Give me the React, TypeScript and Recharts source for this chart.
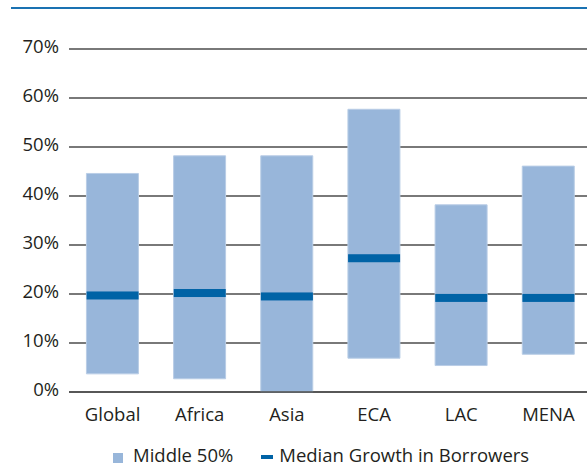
import React from 'react';
import {
  ComposedChart,
  Bar,
  Scatter,
  XAxis,
  YAxis,
  CartesianGrid,
  Legend,
} from 'recharts';

// Growth in borrowers by region: interquartile range and median (%)
const regions = ['Global', 'Africa', 'Asia', 'ECA', 'LAC', 'MENA'];
const lowerQuartile = [3.7, 2.7, 0, 6.9, 5.4, 7.7];
const upperQuartile = [44.6, 48.2, 48.2, 57.7, 38.2, 46.1];
const medianGrowth = [19.7, 20.2, 19.5, 27.3, 19.2, 19.2];
const yTicks = [0, 10, 20, 30, 40, 50, 60, 70];

const data = regions.map((region, i) => ({
  region,
  range: [lowerQuartile[i], upperQuartile[i]],
  median: medianGrowth[i],
}));

const FONT = '"Open Sans", "Noto Sans", sans-serif';
const FONT_SIZE = 18.5;
const TEXT = '#231f20';
const LIGHT = '#98b6da';
const DARK = '#0063a6';
const BAR_W = 52;

const MedianMark = (props: any) => {
  const { cx, cy } = props;
  if (cx == null || cy == null) return null;
  return <rect x={cx - BAR_W / 2} y={cy - 4} width={BAR_W} height={8} fill={DARK} />;
};

const LegendContent = () => (
  <div
    style={{
      display: 'flex',
      alignItems: 'center',
      fontFamily: FONT,
      fontSize: FONT_SIZE,
      lineHeight: '23px',
      height: 23,
      color: TEXT,
      paddingLeft: 113,
      whiteSpace: 'nowrap',
    }}
  >
    <span style={{ width: 10, height: 10, background: LIGHT, display: 'inline-block', marginRight: 10, marginTop: 6 }} />
    <span>Middle 50%</span>
    <span style={{ width: 12, height: 4, background: DARK, display: 'inline-block', marginLeft: 28, marginRight: 6, marginTop: 4 }} />
    <span>Median Growth in Borrowers</span>
  </div>
);

export default function App() {
  return (
    <div
      style={{
        position: 'fixed',
        left: 0,
        top: 0,
        width: 587,
        height: 466,
        overflow: 'hidden',
        background: '#fff',
      }}
    >
      <div
        style={{
          position: 'absolute',
          left: 11,
          right: 0,
          top: 7,
          height: 2,
          background: '#1a72b2',
        }}
      />
      <ComposedChart
        width={592}
        height={466}
        data={data}
        margin={{ top: 49, right: 0, left: 0, bottom: 0 }}
        barCategoryGap="20%"
      >
        <CartesianGrid vertical={false} stroke="#4d4d4d" strokeWidth={1.3} />
        <XAxis
          dataKey="region"
          height={74}
          axisLine={{ stroke: '#4d4d4d', strokeWidth: 1.5 }}
          tickLine={false}
          tickSize={0}
          tickMargin={16}
          tick={{ fill: TEXT, fontSize: FONT_SIZE, fontFamily: FONT }}
          interval={0}
        />
        <YAxis
          width={69}
          domain={[0, 70]}
          ticks={yTicks}
          axisLine={false}
          tickLine={false}
          tickSize={0}
          tickMargin={10}
          tickFormatter={(v: number) => `${v}%`}
          tick={{ fill: TEXT, fontSize: FONT_SIZE, fontFamily: FONT, dy: -3 }}
        />
        <Legend
          verticalAlign="middle"
          layout="horizontal"
          content={<LegendContent />}
          wrapperStyle={{ top: 443, left: 0, width: 587 }}
        />
        <Bar
          dataKey="range"
          name="Middle 50%"
          fill={LIGHT}
          stroke="#b9cde6"
          strokeWidth={1}
          isAnimationActive={false}
        />
        <Scatter
          dataKey="median"
          name="Median Growth in Borrowers"
          fill={DARK}
          shape={<MedianMark />}
          isAnimationActive={false}
        />
      </ComposedChart>
    </div>
  );
}
